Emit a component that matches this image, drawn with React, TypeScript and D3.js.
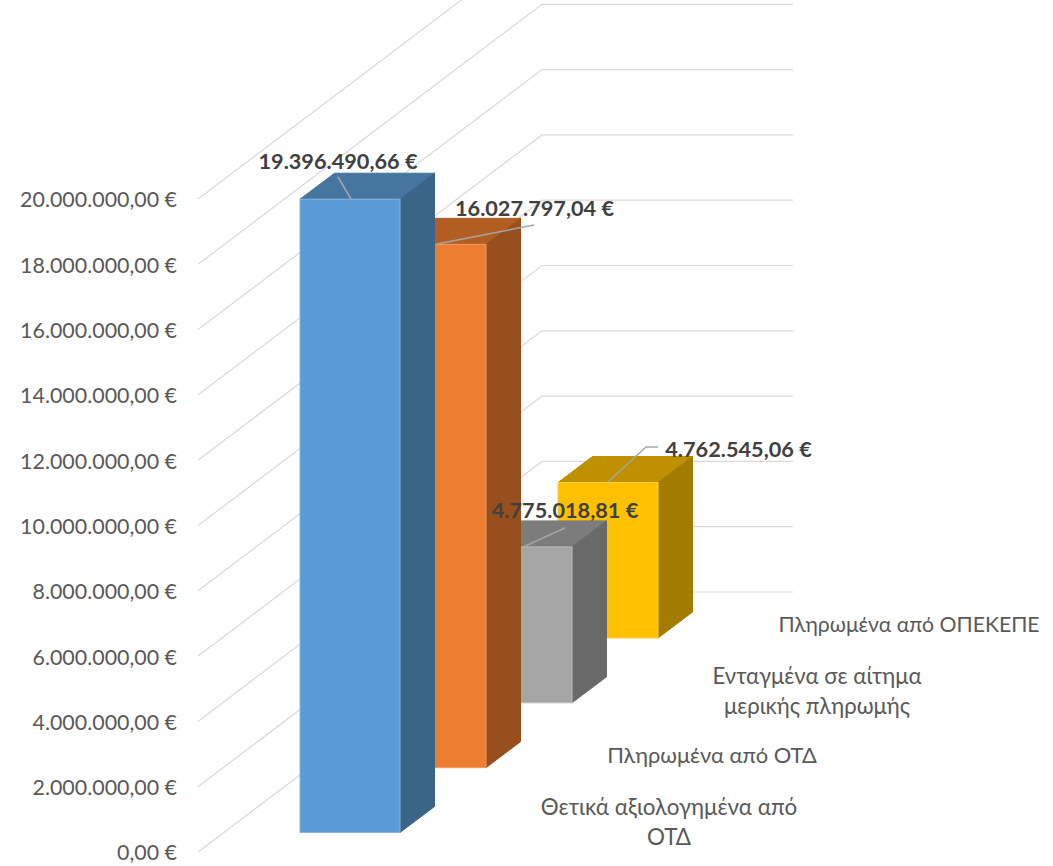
import * as d3 from 'd3';

const categories = [
  ['Θετικά αξιολογημένα από', 'ΟΤΔ'],
  ['Ενταγμένα σε αίτημα', 'μερικής πληρωμής'],
  ['Πληρωμένα από ΟΤΔ'],
  ['Πληρωμένα από ΟΠΕΚΕΠΕ'],
];
const values = [19396490.66, 16027797.04, 4775018.81, 4762545.06];
const frontColors = ['#5b9bd5', '#ed7d31', '#a5a5a5', '#ffc000'];
const sideColors = ['#3a6587', '#97501d', '#696969', '#a37b00'];
const topColors = ['#4675a0', '#b25d22', '#7c7c7c', '#bf9000'];
const edgeColors = ['#86b5e0', '#f19a5f', '#bdbdbd', '#ffd040'];

const width = 1053;
const height = 866;
const fontFamily = 'Lato, "Open Sans", sans-serif';

// floor corners of the oblique projection
const wallX = d3.scaleLinear().domain([0, 1]).range([198, 542]);
const wallY = d3.scaleLinear().domain([0, 1]).range([852, 592]);
const rise = d3.scaleLinear().domain([0, 20000000]).range([0, 653]);

// one column slot front-left per category
const barX = d3.scaleLinear().domain([0, 3]).range([300, 558]);
const barFloor = d3.scaleLinear().domain([0, 3]).range([832.5, 638]);
const barWidth = 100;
const barDepthX = 34.5;
const barDepthY = 26;

const locale = d3.formatLocale({
  decimal: ',',
  thousands: '.',
  grouping: [3],
  currency: ['', ' €'],
});
const fmt = locale.format('$,.2f');

const ticks = rise.ticks(10);
const axisLabelX = 177;

// label centres and leader lines
const labelPos = [
  { x: 338, y: 163, leader: [[338, 177], [351, 199]] },
  { x: 534.5, y: 210, leader: [[534, 225], [437, 244]] },
  { x: 565, y: 512, leader: [[565, 528], [523, 547]] },
  { x: 738.5, y: 451, leader: [[658, 447], [646, 447], [608, 482]] },
];
const catPos = [
  { x: 669, y: 809, size: 22.4 },
  { x: 817, y: 678, size: 22.2 },
  { x: 712, y: 757, size: 21.9 },
  { x: 909, y: 627, size: 21.2 },
];

const line = d3.line();

function Bar({ i }: { i: number }) {
  const x0 = barX(i);
  const x1 = x0 + barWidth;
  const bottom = barFloor(i);
  const top = bottom - rise(values[i]);
  const dx = barDepthX;
  const dy = barDepthY;
  return (
    <g>
      <path
        d={`M${x0},${top}L${x0 + dx},${top - dy}L${x1 + dx},${top - dy}L${x1},${top}Z`}
        fill={topColors[i]}
        stroke={topColors[i]}
      />
      <path
        d={`M${x1},${top}L${x1 + dx},${top - dy}L${x1 + dx},${bottom - dy}L${x1},${bottom}Z`}
        fill={sideColors[i]}
        stroke={sideColors[i]}
      />
      <rect x={x0} y={top} width={barWidth} height={bottom - top} fill={frontColors[i]} stroke={edgeColors[i]} />
    </g>
  );
}

export default function App() {
  return (
    <svg
      width={width}
      height={height}
      style={{ position: 'absolute', left: 0, top: 0, background: '#fff' }}
      fontFamily={fontFamily}
    >
      {/* gridlines: side wall + back wall */}
      {ticks.map((t) => (
        <path
          key={t}
          d={
            line([
              [wallX(0), wallY(0) - rise(t)],
              [wallX(1), wallY(1) - rise(t)],
              [793, wallY(1) - rise(t)],
            ])!
          }
          fill="none"
          stroke="#d9d9d9"
          strokeWidth={1.2}
        />
      ))}

      {ticks.map((t) => (
        <text
          key={t}
          x={axisLabelX}
          y={wallY(0) - rise(t) + 3}
          textAnchor="end"
          dominantBaseline="middle"
          fontSize={21.4}
          fill="#595959"
        >
          {fmt(t)}
        </text>
      ))}

      {/* drawn back to front */}
      {d3.range(values.length - 1, -1, -1).map((i) => (
        <Bar key={i} i={i} />
      ))}

      {labelPos.map((l, i) => (
        <path
          key={i}
          d={line(l.leader as [number, number][])!}
          fill="none"
          stroke="#a6a6a6"
          strokeWidth={1.5}
        />
      ))}
      {labelPos.map((l, i) => (
        <text
          key={i}
          x={l.x}
          y={l.y}
          textAnchor="middle"
          dominantBaseline="middle"
          fontSize={21.7}
          fontWeight={700}
          fill="#404040"
        >
          {fmt(values[i])}
        </text>
      ))}

      {categories.map((lines, i) => (
        <text key={i} textAnchor="middle" fontSize={catPos[i].size} fill="#595959">
          {lines.map((s, k) => (
            <tspan key={k} x={catPos[i].x} y={catPos[i].y + k * 30} dominantBaseline="middle">
              {s}
            </tspan>
          ))}
        </text>
      ))}
    </svg>
  );
}
